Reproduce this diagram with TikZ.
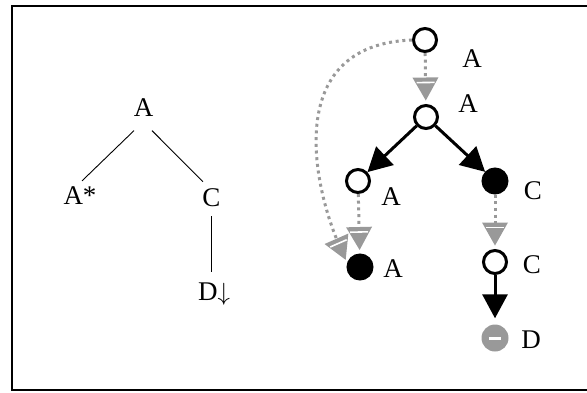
\documentclass[tikz,border=0pt]{standalone}
\usepackage{fontspec}
\setmainfont{Liberation Serif}
\usetikzlibrary{arrows.meta}
\definecolor{grayc}{RGB}{153,153,153}
\pgfdeclarearrow{
  name = GTri,
  setup code = {
    \pgfarrowssettipend{0pt}
    \pgfarrowssetlineend{-17pt}
    \pgfarrowssetbackend{-23pt}
    \pgfarrowshullpoint{0pt}{0pt}
    \pgfarrowsupperhullpoint{-23pt}{13pt}
  },
  drawing code = {
    \pgfsetdash{}{0pt}
    \pgfsetfillcolor{grayc}
    \pgfpathmoveto{\pgfqpoint{0pt}{0pt}}
    \pgfpathlineto{\pgfqpoint{-23pt}{13pt}}
    \pgfpathlineto{\pgfqpoint{-23pt}{-13pt}}
    \pgfpathclose
    \pgfusepathqfill
    \pgfsetstrokecolor{white}
    \pgfsetlinewidth{1.6pt}
    \pgfpathmoveto{\pgfqpoint{-18pt}{9pt}}
    \pgfpathlineto{\pgfqpoint{-18pt}{-9pt}}
    \pgfusepathqstroke
  }
}
\tikzset{
  onode/.style={circle, draw=black, line width=3pt, fill=white, minimum size=23pt, inner sep=0pt},
  fnode/.style={circle, draw=black, fill=black, line width=3pt, minimum size=24pt, inner sep=0pt},
  dnode/.style={circle, fill=grayc, minimum size=27pt, inner sep=0pt,
    path picture={\draw[white, line width=3pt] ([xshift=-6pt]path picture bounding box.center) -- ([xshift=6pt]path picture bounding box.center);}},
  lbl/.style={inner sep=0pt, font=\fontsize{27}{30}\selectfont},
  garrow/.style={draw=grayc, line width=3pt, dash pattern=on 3pt off 3.7pt, -{GTri}, shorten >=3.5pt},
  barrow/.style={draw=black, line width=3pt, -{Triangle[width=25pt,length=24pt]}},
  tline/.style={draw=black, line width=0.9pt}
}
\begin{document}
\begin{tikzpicture}[x=1pt,y=-1pt]
\useasboundingbox (0,0) rectangle (587,392);
\clip (0,0) rectangle (587,392);
\draw[line width=2pt] (12,5.5) rectangle (595,389.5);

% left tree
\node[lbl] (L1) at (143.5,107.5) {A};
\node[lbl] (L2) at (80,196) {A*};
\node[lbl] (L3) at (211.5,197.5) {C};
\node[lbl, anchor=base west] (L4) at (198,300) {D$\downarrow$};
\draw[tline] ([shift={(-9.5,14)}]L1.south) -- ([shift={(2,-6)}]L2.north);
\draw[tline] ([shift={(8.5,14)}]L1.south) -- ([shift={(-8.5,-6.5)}]L3.north);
\draw[tline] ([shift={(-0.5,9.5)}]L3.south) -- ([shift={(13,-9.7)}]L4.north west);

% right tree
\node[onode] (n1) at (425,40) {};
\node[onode] (n2) at (426,117) {};
\node[onode] (n3) at (358,181) {};
\node[fnode] (n4) at (495,181) {};
\node[fnode] (n5) at (360,267) {};
\node[onode] (n6) at (495,262) {};
\node[dnode] (n7) at (495,338) {};

\node[lbl] (la1) at (472,59) {A};
\node[lbl] (la2) at (468,104) {A};
\node[lbl] (la3) at (391,197) {A};
\node[lbl] (lc1) at (533,191) {C};
\node[lbl] (la4) at (393,269) {A};
\node[lbl] (lc2) at (532,265) {C};
\node[lbl] (ld) at (531,340) {D};

\draw[garrow] (n1) -- (n2);
\draw[barrow] (n2) -- (n3);
\draw[barrow] (n2) -- (n4);
\draw[garrow] (n3) -- (n5);
\draw[garrow] (n4) -- (n6);
\draw[barrow, shorten >=6pt] (n6) -- (n7);
\draw[garrow] (n1.west) .. controls (280,45) and (315,190) .. (n5.163);
\end{tikzpicture}
\end{document}
